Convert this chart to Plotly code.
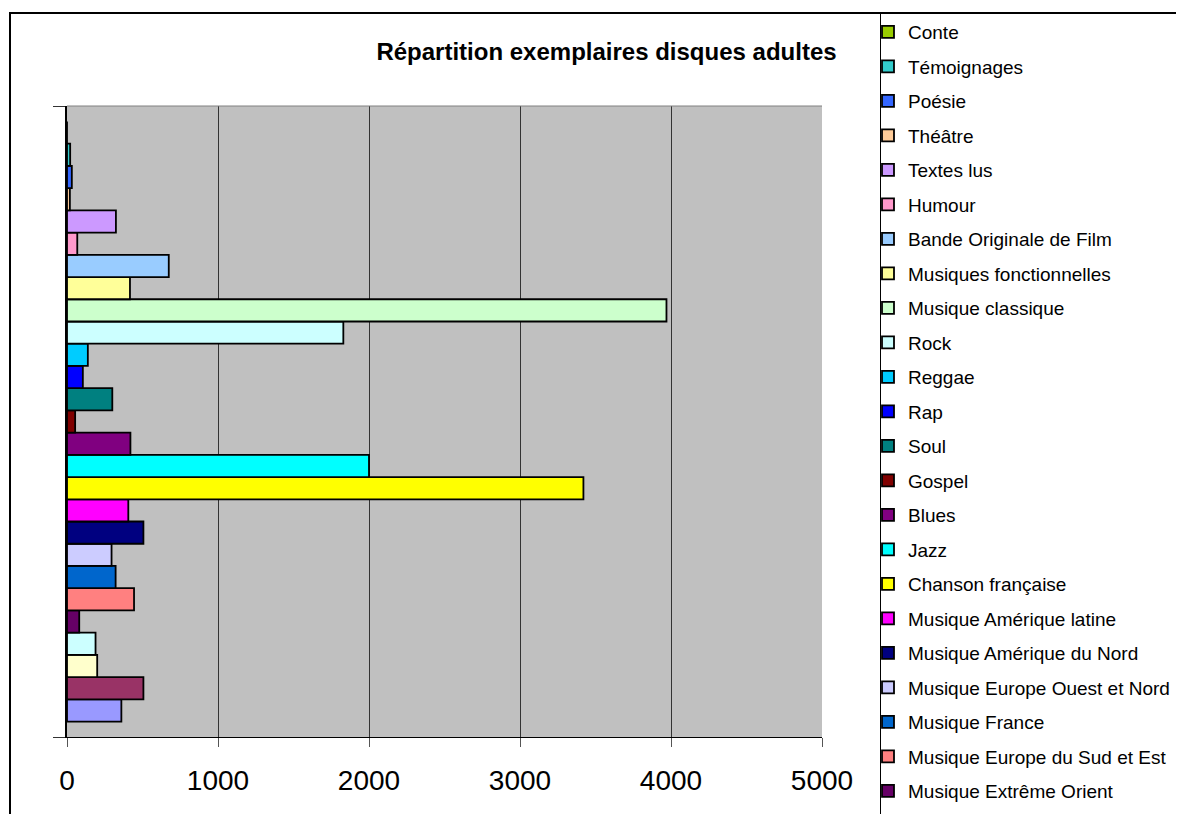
"""Répartition exemplaires disques adultes - Excel style horizontal bar chart."""

import plotly.graph_objects as go

# series, from the bottom bar up (the legend lists them top-down, reversed)
genres = [
    "Musique Afrique",
    "Musique Maghreb et Moyen Orient",
    "Musiques traditionnelles",
    "Musique Océanie",
    "Musique Extrême Orient",
    "Musique Europe du Sud et Est",
    "Musique France",
    "Musique Europe Ouest et Nord",
    "Musique Amérique du Nord",
    "Musique Amérique latine",
    "Chanson française",
    "Jazz",
    "Blues",
    "Gospel",
    "Soul",
    "Rap",
    "Reggae",
    "Rock",
    "Musique classique",
    "Musiques fonctionnelles",
    "Bande Originale de Film",
    "Humour",
    "Textes lus",
    "Théâtre",
    "Poésie",
    "Témoignages",
    "Conte",
]
exemplaires = [
    360, 506, 200, 189, 81, 444, 322, 295, 506, 406,
    3420, 2000, 420, 54, 300, 105, 138, 1830, 3970, 417,
    674, 68, 324, 19, 32, 21, 0,
]
# the last entries of the legend fall outside the visible frame
hidden_in_legend = genres[:4]
x_ticks = [0, 1000, 2000, 3000, 4000, 5000]

# classic Excel palette
COLORS = [
    "#9999FF", "#993366", "#FFFFCC", "#CCFFFF", "#660066",
    "#FF8080", "#0066CC", "#CCCCFF", "#000080", "#FF00FF",
    "#FFFF00", "#00FFFF", "#800080", "#800000", "#008080",
    "#0000FF", "#00CCFF", "#CCFFFF", "#CCFFCC", "#FFFF99",
    "#99CCFF", "#FF99CC", "#CC99FF", "#FFCC99", "#3366FF",
    "#33CCCC", "#99CC00",
]

FONT = "Liberation Sans, Arial, sans-serif"
OFF = 8  # the page body adds an 8px margin around the figure
W, H = 1184, 814
PW, PH = 755, 631
L, T = 67 - OFF, 106 - OFF
R, B = W - L - PW, H - T - PH


def px_x(p):
    return (p - OFF - L) / PW


def px_y(p):
    return (T + PH - (p - OFF)) / PH


fig = go.Figure()
for i, (name, val, col) in enumerate(zip(genres, exemplaires, COLORS)):
    fig.add_trace(
        go.Bar(
            y=[0],
            x=[val],
            name=name,
            orientation="h",
            legendgroup=name,
            legendrank=len(genres) - i,  # last series on top of the legend
            showlegend=name not in hidden_in_legend,
            marker=dict(color=col, line=dict(color="black", width=1.8)),
            hovertemplate=name + ": %{x}<extra></extra>",
        )
    )

fig.update_layout(
    width=W,
    height=H,
    barmode="group",
    bargap=0.049,
    bargroupgap=0,
    paper_bgcolor="white",
    plot_bgcolor="#C0C0C0",
    margin=dict(l=L, r=R, t=T, b=B, autoexpand=False),
    title=dict(
        text="<b>Répartition exemplaires disques adultes</b>",
        font=dict(family=FONT, size=24, color="black"),
        x=px_x(606.5), xref="paper", xanchor="center",
        y=1 - (52 - OFF) / H, yanchor="middle",
    ),
    legend=dict(
        traceorder="grouped",
        tracegroupgap=6.8,
        font=dict(family=FONT, size=19, color="black"),
        x=px_x(868), xanchor="left",
        y=px_y(13), yanchor="top",
        maxheight=2000,
        bgcolor="rgba(0,0,0,0)",
        borderwidth=0,
    ),
    xaxis=dict(
        range=[0, 5000],
        tickvals=x_ticks,
        showgrid=True,
        gridcolor="#333333",
        gridwidth=1,
        showline=True,
        linecolor="black",
        linewidth=1,
        ticks="outside",
        ticklen=9,
        tickcolor="#555555",
        tickfont=dict(family=FONT, size=28, color="black"),
        ticklabelstandoff=9,
        zeroline=False,
        automargin=False,
        fixedrange=True,
    ),
    yaxis=dict(
        range=[-0.5, 0.5],
        tickvals=[-0.5, 0.5],
        ticks="outside",
        ticklen=12,
        tickcolor="#333333",
        showticklabels=False,
        showline=True,
        linecolor="black",
        linewidth=2,
        showgrid=False,
        zeroline=False,
        automargin=False,
        fixedrange=True,
    ),
    shapes=[
        # top edge of the plot area
        dict(type="line", xref="paper", yref="paper", x0=0, x1=1, y0=1, y1=1,
             line=dict(color="#808080", width=1)),
        # outer chart frame (clipped by the window on the right and bottom)
        dict(type="rect", xref="paper", yref="paper",
             x0=px_x(10), x1=px_x(1220), y0=px_y(13), y1=px_y(850),
             line=dict(color="black", width=2)),
        # legend frame
        dict(type="line", xref="paper", yref="paper",
             x0=px_x(880.5), x1=px_x(880.5), y0=px_y(13), y1=px_y(850),
             line=dict(color="black", width=1)),
    ],
)

fig.write_html("out.html")
